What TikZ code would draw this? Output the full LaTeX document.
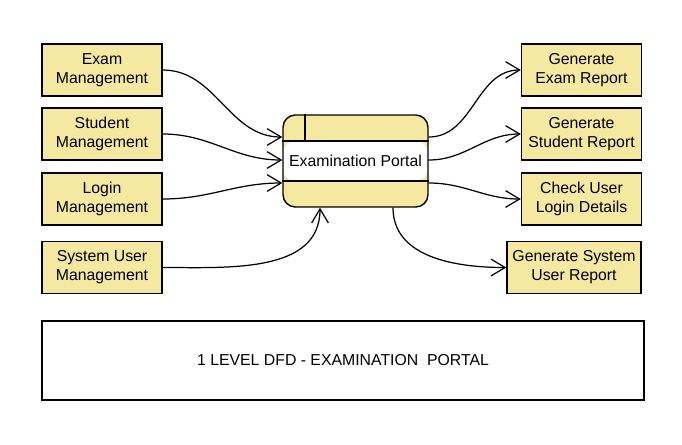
\documentclass[tikz,border=0pt]{standalone}
\usepackage{fontspec}
\setmainfont{Liberation Sans}
\usepackage{xcolor}
\usepackage{tikz}
\usetikzlibrary{arrows.meta}

\definecolor{boxfill}{RGB}{245,232,160}

\begin{document}
\begin{tikzpicture}[
    x=0.02cm, y=-0.02cm,
    entity/.style={rectangle, draw, line width=0.8pt, fill=boxfill, minimum width=2.4cm, minimum height=1.04cm, align=center, inner sep=1pt, font=\fontsize{9pt}{10.8pt}\selectfont},
    flow/.style={line width=0.7pt, -{Straight Barb[length=8pt, width=9.5pt, line width=0.7pt]}},
    process/.style={rectangle, rounded corners=7pt, draw, line width=0.8pt, fill=boxfill, minimum width=2.9cm, minimum height=1.84cm, font=\fontsize{9pt}{10.8pt}\selectfont,
        path picture={\fill[white] ([yshift=-0.4cm]path picture bounding box.west) rectangle ([yshift=0.4cm]path picture bounding box.east);}}
]
    \useasboundingbox (0,0) rectangle (682,444);

    % Source entities
    \node[entity] (exam) at (102,70) {Exam\\Management};
    \node[entity] (student) at (102,134) {Student\\Management};
    \node[entity] (login) at (102,199) {Login\\Management};
    \node[entity] (sysuser) at (102,267.5) {System User\\Management};

    % Central process
    \node[process] (portal) at (355.5,161) {Examination Portal};
    \draw[line width=0.8pt] ([yshift=0.4cm]portal.west) -- ([yshift=0.4cm]portal.east);
    \draw[line width=0.8pt] ([yshift=-0.4cm]portal.west) -- ([yshift=-0.4cm]portal.east);
    \draw[line width=0.8pt] ([xshift=-1.01cm]portal.north) -- ([xshift=-1.01cm, yshift=-0.52cm]portal.north);

    % Output entities
    \node[entity] (examrep) at (581.5,70) {Generate\\Exam Report};
    \node[entity] (studrep) at (581.5,134) {Generate\\Student Report};
    \node[entity] (checklogin) at (581.5,199) {Check User\\Login Details};
    \node[entity, minimum width=2.68cm] (sysrep) at (574,267.5) {Generate System\\User Report};

    % Flows in
    \draw[flow] (exam.east) to[out=0, in=180] ([yshift=0.48cm]portal.west);
    \draw[flow] (student.east) to[out=0, in=180] ([yshift=0.02cm]portal.west);
    \draw[flow] (login.east) to[out=0, in=180] ([yshift=-0.44cm]portal.west);
    \draw[flow] (sysuser.east) to[out=0, in=-90] ([xshift=-0.71cm]portal.south);

    % Flows out
    \draw[flow] ([yshift=0.48cm]portal.east) to[out=0, in=180] (examrep.west);
    \draw[flow] ([yshift=0.02cm]portal.east) to[out=0, in=180] (studrep.west);
    \draw[flow] ([yshift=-0.44cm]portal.east) to[out=0, in=180] (checklogin.west);
    \draw[flow] ([xshift=0.75cm]portal.south) to[out=-90, in=180] (sysrep.west);

    % Title
    \node[rectangle, draw, line width=0.8pt, minimum width=12.04cm, minimum height=1.58cm, font=\fontsize{9pt}{10.8pt}\selectfont] (title) at (343,360.5) {1 LEVEL DFD - EXAMINATION\ \ PORTAL};
\end{tikzpicture}
\end{document}
